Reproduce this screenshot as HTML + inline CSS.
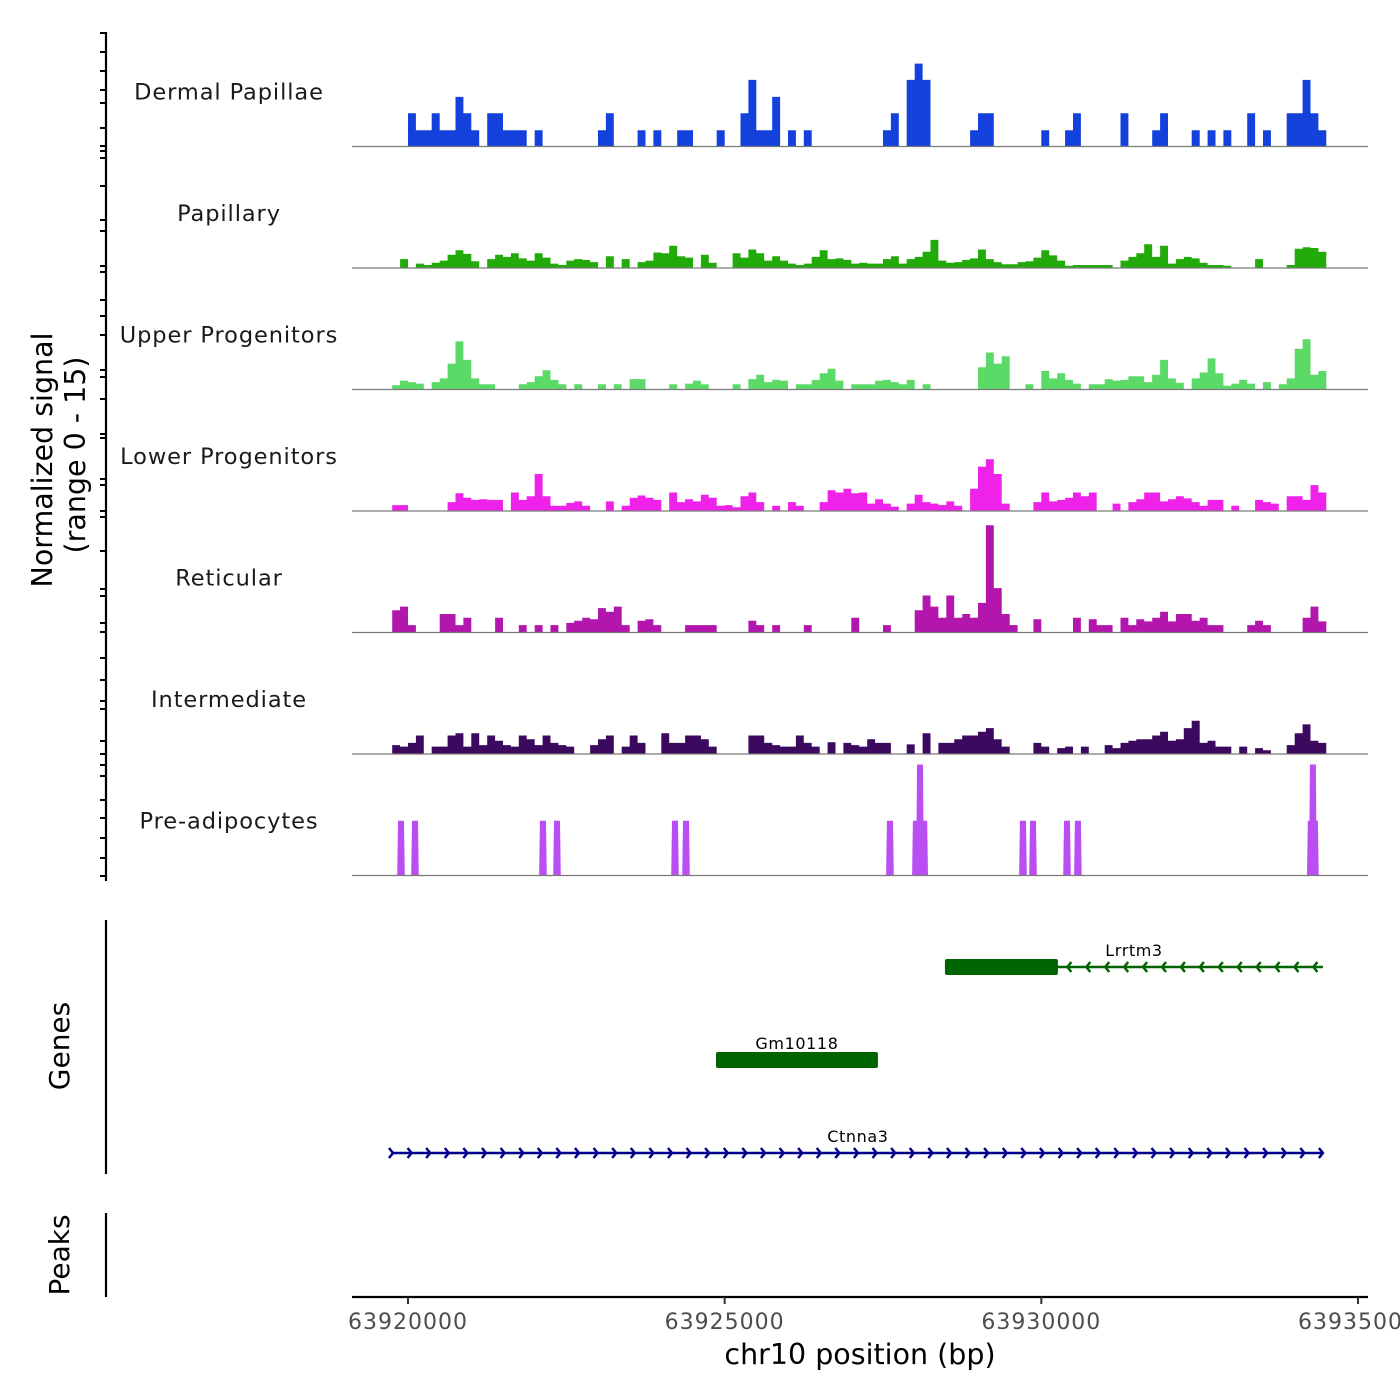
<!DOCTYPE html>
<html><head><meta charset="utf-8"><style>
html,body{margin:0;padding:0;background:#fff;}
svg{display:block;font-family:"DejaVu Sans","Liberation Sans",sans-serif;}
</style></head><body>
<svg id="chart" width="1400" height="1400" viewBox="0 0 1400 1400">
<g id="axes"></g>
<g id="tracks"></g>
<g id="genes"></g>
<text transform="translate(52,460) rotate(-90)" text-anchor="middle" font-size="28.5" fill="#000">Normalized signal</text>
<text transform="translate(85,455) rotate(-90)" text-anchor="middle" font-size="28.5" fill="#000">(range 0 - 15)</text>
<text transform="translate(69,1046) rotate(-90)" text-anchor="middle" font-size="28" fill="#000">Genes</text>
<text transform="translate(69,1255) rotate(-90)" text-anchor="middle" font-size="28" fill="#000">Peaks</text>
<text x="860" y="1364" text-anchor="middle" font-size="28.5" fill="#000">chr10 position (bp)</text>
</svg>
<script>
// ---- data ----
const trackNames = ["Dermal Papillae","Papillary","Upper Progenitors","Lower Progenitors","Reticular","Intermediate","Pre-adipocytes"];
const trackColors = ["#1440DC","#22AA0A","#5CDA68","#EE22E8","#B216AC","#3B0A5E","#B94FF2"];
const binStart = 63919750;
const binSize = 125;
const dermalPapillae = [0,0,4.5,2.2,2.2,4.5,2.2,2.2,6.7,4.5, 2.2,0,4.5,4.5,2.2,2.2,2.2,0,2.2,0, 0,0,0,0,0,0,2.2,4.5,0,0, 0,2.2,0,2.2,0,0,2.2,2.2,0,0, 0,2.2,0,0,4.5,9,2.2,2.2,6.7,0, 2.2,0,2.2,0,0,0,0,0,0,0, 0,0,2.2,4.5,0,9,11.2,9,0,0, 0,0,0,2.2,4.5,4.5,0,0,0,0, 0,0,2.2,0,0,2.2,4.5,0,0,0, 0,0,4.5,0,0,0,2.2,4.5,0,0, 0,2.2,0,2.2,0,2.2,0,0,4.5,0, 2.2,0,0,4.5,4.5,9,4.5,2.2];
const papillary = [0,1.2,0,0.6,0.4,0.7,1.0,1.8,2.4,1.9, 0.9,0,1.2,1.8,1.5,2.0,1.3,1.0,2.0,1.4, 0.6,0.4,1.0,1.2,1.1,0.8,0,1.6,0,1.2, 0,0.8,1.0,2.1,2.0,3.0,1.6,1.4,0,1.8, 0.7,0,0,2.0,1.4,2.5,2.0,1.0,1.6,1.0, 0.6,0.4,0.6,1.5,2.4,1.2,1.3,1.1,0.6,0.7, 0.6,0.6,1.2,1.6,0.6,1.2,1.5,2.2,3.8,1.0, 0.7,0.8,1.1,1.3,2.5,1.2,0.8,0.5,0.5,0.8, 0.9,1.4,2.4,1.7,1.0,0.3,0.4,0.4,0.4,0.4, 0.4,0,1.0,1.5,2.0,3.2,1.5,3.0,0.6,1.2, 1.5,1.3,0.7,0.4,0.4,0.3,0,0,0,1.2, 0,0,0,0.4,2.6,2.8,2.7,2.2];
const upperProgenitors = [0.6,1.2,1.0,0.8,0,1.0,1.5,3.5,6.5,4.0, 1.5,0.7,0.7,0,0,0,0.7,1.0,1.8,2.6, 1.3,0.7,0,0.7,0,0,0.7,0,0.7,0, 1.4,1.4,0,0,0,0.7,0,0.8,1.2,0.7, 0,0,0,0.7,0,1.4,2.0,1.0,1.3,1.2, 0,0.7,0.7,1.3,2.2,2.8,1.2,0,0.7,0.7, 0.7,1.2,1.3,1.0,0.7,1.3,0,0.7,0,0, 0,0,0,0,3.0,5.0,3.5,4.5,0,0, 0.7,0,2.5,1.5,2.2,1.3,0.8,0,0.7,0.7, 1.4,1.2,1.3,1.8,1.8,1.0,2.0,4.0,1.5,0.9, 0,1.5,2.3,4.2,2.2,0.5,0.8,1.3,0.8,0, 1.0,0,0.7,1.5,5.5,6.8,2.0,2.5];
const lowerProgenitors = [0.8,0.8,0,0,0,0,0,1.2,2.4,1.8, 1.5,1.6,1.5,1.5,0,2.5,1.5,2.0,5.0,2.0, 0.7,0.7,1.1,1.3,0.7,0,0,1.3,0,0.7, 1.8,2.1,1.8,1.5,0,2.5,1.2,1.6,1.3,2.2, 1.8,0.7,0.8,0.5,2.0,2.5,1.2,0,0.7,0, 1.2,0.7,0,0,1.2,2.8,2.5,3.0,2.4,2.5, 1.0,1.6,1.0,0.6,0,1.0,2.2,1.2,1.0,0.8, 1.3,0.7,0,3.0,6.0,7.0,5.0,1.0,0,0, 0,1.2,2.5,1.3,1.5,1.8,2.5,2.0,2.5,0, 0,1.0,0,1.2,1.6,2.5,2.5,1.3,1.6,2.0, 1.7,1.2,0.7,1.5,1.5,0,0.7,0,0,1.5, 1.2,1.0,0,2.0,2.0,1.5,3.5,2.5];
const reticular = [3.0,3.5,1.0,0,0,0,2.5,2.5,1.0,2.0, 0,0,0,2.0,0,0,1.0,0,1.0,0, 1.0,0,1.3,1.6,2.0,1.8,3.3,2.8,3.5,1.0, 0,1.6,1.8,1.0,0,0,0,1.0,1.0,1.0, 1.0,0,0,0,0,1.6,1.0,0,1.0,0, 0,0,1.0,0,0,0,0,0,2.0,0, 0,0,1.0,0,0,0,3.0,5.0,3.5,2.0, 5.0,2.0,2.5,2.0,4.0,14.5,6.0,2.5,1.0,0, 0,1.8,0,0,0,0,2.0,0,1.8,1.0, 1.0,0,2.0,1.0,1.8,1.5,2.0,2.8,1.5,2.5, 2.5,1.6,2.0,1.0,1.0,0,0,0,1.0,1.6, 1.0,0,0,0,0,2.0,3.5,1.5];
const intermediate = [1.2,1.0,1.5,2.5,0,1.0,1.0,2.5,2.8,1.0, 2.8,1.2,2.5,1.8,1.2,1.0,2.5,2.0,1.2,2.5, 1.5,1.2,1.0,0,0,1.2,2.0,2.5,0,1.0, 2.5,1.5,0,0,2.8,1.5,1.5,2.5,2.5,2.0, 1.0,0,0,0,0,2.5,2.5,1.5,1.2,1.0, 1.0,2.5,1.5,1.0,0,1.6,0,1.5,1.2,1.0, 2.0,1.5,1.5,0,0,1.3,0,2.8,0,1.5, 1.5,2.0,2.5,2.5,3.0,3.5,2.0,1.0,0,0, 0,1.5,1.0,0,0.8,1.0,0,1.0,0,0, 1.2,0.8,1.5,1.8,2.0,2.0,2.5,3.0,1.8,2.0, 3.5,4.5,1.5,1.8,1.0,1.0,0,1.0,0,0.8, 0.5,0,0,1.2,2.8,4.0,1.8,1.5];
const preadipoPos = [63919890,63920111,63922131,63922353,63924216,63924389,63927610,63928020,63928084,63928150,63929710,63929868,63930405,63930578,63934255,63934288,63934320];
const preadipoVal = [7.4,7.4,7.4,7.4,7.4,7.4,7.4,7.4,15,7.4,7.4,7.4,7.4,7.4,7.4,15,7.4];
const preadipoWidth = 95;
const binnedTracks = [dermalPapillae,papillary,upperProgenitors,lowerProgenitors,reticular,intermediate];
const xTicks = [63920000,63925000,63930000,63935000];
const geneNames = ["Lrrtm3","Gm10118","Ctnna3"];
const geneStart = [63928478,63924863,63919763];
const geneEnd = [63934446,63927420,63934446];
const geneExonStart = [63928478,63924863,null];
const geneExonEnd = [63930262,63927420,null];
const geneStrand = [-1,1,1];
const geneColors = ["#006400","#006400","#00008B"];

// ---- scales ----
const NS="http://www.w3.org/2000/svg";
const X0=352, X1=1368, BP0=63919116, BP1=63935158;
function xs(bp){return X0+(bp-BP0)*(X1-X0)/(BP1-BP0);}
const trackTop=25, trackH=121.5, signalMax=15, signalPx=111;
function baseY(k){return trackTop+trackH*(k+1);}
function ys(k,v){return baseY(k)-v*signalPx/signalMax;}
function mk(tag,attrs,parent){const e=document.createElementNS(NS,tag);for(const a in attrs)e.setAttribute(a,attrs[a]);parent.appendChild(e);return e;}

const axes=document.getElementById('axes'), tracksG=document.getElementById('tracks'), genesG=document.getElementById('genes');

// left axes
let l=mk('line',{x1:106,y1:32,x2:106,y2:881,stroke:'#000','stroke-width':2.2},axes);


const leftTicks=[33,52,71,90,103,128,146,151,158,186,220,231,266,272,300,316,335,370,377,399,434,438,479,485,511,517,551,589,596,623,632,658,680,701,709,741,754,765,776,800,818,838,858,876];
leftTicks.forEach(y=>{const t=mk('line',{x1:100,y1:y,x2:106,y2:y,stroke:'#000','stroke-width':2},axes);

});
l=mk('line',{x1:106,y1:920,x2:106,y2:1174,stroke:'#000','stroke-width':2.2},axes);


l=mk('line',{x1:106,y1:1213,x2:106,y2:1297,stroke:'#000','stroke-width':2.2},axes);


// x axis
l=mk('line',{x1:X0,y1:1297,x2:X1,y2:1297,stroke:'#000','stroke-width':2.2},axes);


xTicks.forEach(v=>{const x=xs(v);
const t=mk('line',{x1:x,y1:1297,x2:x,y2:1304,stroke:'#333','stroke-width':2},axes);


const tx=mk('text',{x:x,y:1329,'text-anchor':'middle','font-size':22,fill:'#4d4d4d','letter-spacing':'1'},axes);
tx.textContent=String(v);

});

// tracks
trackNames.forEach((name,k)=>{
 const g=mk('g',{},tracksG);
 
 
 const lab=mk('text',{x:229,y:ys(k,0)-47,'text-anchor':'middle','font-size':22.5,fill:'#1a1a1a','letter-spacing':'0.9'},g);
 lab.textContent=name;
 
 
 const b=baseY(k);
 let d='';
 if(k<6){
  const vals=binnedTracks[k];
  let open=false;
  vals.forEach((v,i)=>{
   const xa=xs(binStart+i*binSize), xb=xs(binStart+(i+1)*binSize);
   if(v>0){
     if(!open){d+='M'+xa.toFixed(1)+','+b+' ';open=true;}
     d+='L'+xa.toFixed(1)+','+ys(k,v).toFixed(1)+' L'+xb.toFixed(1)+','+ys(k,v).toFixed(1)+' ';
   } else if(open){d+='L'+xa.toFixed(1)+','+b+' Z ';open=false;}
  });
  if(open){d+='L'+xs(binStart+vals.length*binSize).toFixed(1)+','+b+' Z';}
 } else {
  preadipoPos.forEach((p,i)=>{
   const xa=xs(p-preadipoWidth/2), xb=xs(p+preadipoWidth/2), y=ys(k,preadipoVal[i]).toFixed(1);
   d+='M'+(xa-0.8).toFixed(1)+','+b+' L'+xa.toFixed(1)+','+y+' L'+xb.toFixed(1)+','+y+' L'+(xb+0.8).toFixed(1)+','+b+' Z ';
  });
 }
 const p=mk('path',{d:d,fill:trackColors[k]},g);
 
 
 const bl=mk('line',{x1:X0,y1:b,x2:X1,y2:b,stroke:'#7a7a7a','stroke-width':1.2},g);
 
 
});

// genes
const geneRowY=[967,1060,1153];
geneNames.forEach((name,i)=>{
 const g=mk('g',{},genesG);
 
 
 const y=geneRowY[i], c=geneColors[i];
 const xa=xs(geneStart[i]), xb=xs(geneEnd[i]);
 const ln=mk('line',{x1:xa,y1:y,x2:xb,y2:y,stroke:c,'stroke-width':2.5},g);
 
 
 if(geneExonStart[i]!==null){
  const ea=xs(geneExonStart[i]), eb=xs(geneExonEnd[i]);
  const r=mk('rect',{x:ea,y:y-8,width:eb-ea,height:16,rx:2,fill:c},g);
  
  
 }
 const s=geneStrand[i];
 const from=geneExonEnd[i]!==null && s<0 ? geneExonEnd[i] : geneStart[i];
 const to=geneExonStart[i]!==null && s>0 ? null : geneEnd[i];
 if(to!==null){
  const step=(to-from)/Math.round((xs(to)-xs(from))/18.7);
  for(let bp=from+(s<0?step*0.5:0); bp<=to+1; bp+=step){
   const x=xs(bp);
   const pts=s>0? (x-4)+','+(y-5)+' '+x+','+y+' '+(x-4)+','+(y+5) : (x+4)+','+(y-5)+' '+x+','+y+' '+(x+4)+','+(y+5);
   const ch=mk('polyline',{points:pts,fill:'none',stroke:c,'stroke-width':2.5},g);
   
   
  }
 }
 const lx = i===0 ? 1134 : (xa+xb)/2;
 const t=mk('text',{x:lx,y:y-11,'text-anchor':'middle','font-size':16,fill:'#000','letter-spacing':'0.6'},g);
 t.textContent=name;
 
 
});
</script>
</body></html>
